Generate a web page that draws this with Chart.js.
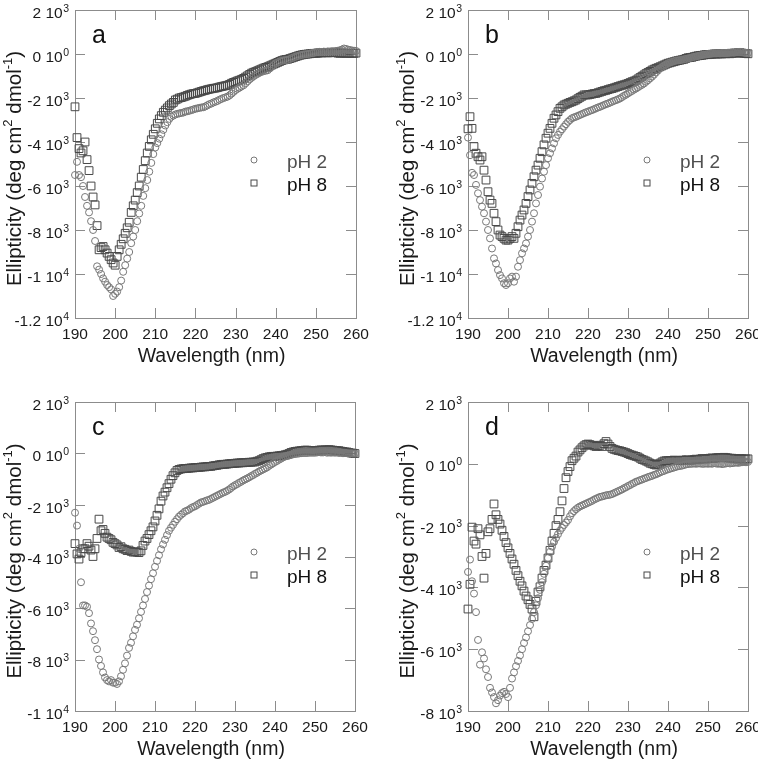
<!DOCTYPE html>
<html>
<head>
<meta charset="utf-8">
<script src="https://cdn.jsdelivr.net/npm/chart.js@4.4.0/dist/chart.umd.min.js"></script>
<style>
body { margin: 0; background: #fff; }
canvas { position: absolute; }
</style>
</head>
<body>
<canvas id="pa" width="379" height="379" style="left:0;top:0"></canvas>
<canvas id="pb" width="379" height="379" style="left:379px;top:0"></canvas>
<canvas id="pc" width="379" height="380" style="left:0;top:379px"></canvas>
<canvas id="pd" width="379" height="380" style="left:379px;top:379px"></canvas>
<script>
// wavelength (nm), one value every 0.5 nm
const wavelength = [
  190,190.5,191,191.5,192,192.5,193,193.5,194,194.5,
  195,195.5,196,196.5,197,197.5,198,198.5,199,199.5,
  200,200.5,201,201.5,202,202.5,203,203.5,204,204.5,
  205,205.5,206,206.5,207,207.5,208,208.5,209,209.5,
  210,210.5,211,211.5,212,212.5,213,213.5,214,214.5,
  215,215.5,216,216.5,217,217.5,218,218.5,219,219.5,
  220,220.5,221,221.5,222,222.5,223,223.5,224,224.5,
  225,225.5,226,226.5,227,227.5,228,228.5,229,229.5,
  230,230.5,231,231.5,232,232.5,233,233.5,234,234.5,
  235,235.5,236,236.5,237,237.5,238,238.5,239,239.5,
  240,240.5,241,241.5,242,242.5,243,243.5,244,244.5,
  245,245.5,246,246.5,247,247.5,248,248.5,249,249.5,
  250,250.5,251,251.5,252,252.5,253,253.5,254,254.5,
  255,255.5,256,256.5,257,257.5,258,258.5,259,259.5,
  260
];

// ellipticity (deg cm2 dmol-1)
const a_pH2 = [
  -5500,-4900,-5500,-5600,-6000,-6500,-6900,-7200,-7600,-8000,
  -8500,-9650,-9800,-10000,-10200,-10350,-10500,-10600,-10700,-11000,
  -10900,-10800,-10600,-10300,-9900,-9600,-9300,-9000,-8600,-8300,
  -8000,-7600,-7250,-6900,-6450,-6100,-5730,-5350,-4950,-4550,
  -4250,-4050,-3850,-3650,-3450,-3250,-3100,-2950,-2850,-2800,
  -2750,-2720,-2700,-2680,-2660,-2620,-2600,-2580,-2550,-2520,
  -2490,-2470,-2450,-2430,-2420,-2380,-2330,-2280,-2250,-2200,
  -2170,-2130,-2080,-2040,-2000,-1970,-1940,-1880,-1800,-1720,
  -1640,-1580,-1530,-1470,-1420,-1330,-1240,-1150,-1080,-1010,
  -950,-900,-850,-810,-780,-760,-740,-660,-580,-500,
  -420,-380,-340,-310,-290,-280,-270,-230,-190,-150,
  -120,-90,-60,-40,-20,-10,0,20,40,60,
  80,90,100,90,110,100,120,110,130,120,
  140,150,170,200,250,230,200,180,160,150,
  140
];
const a_pH8 = [
  -2400,-3800,-4300,-4500,-4400,-4000,-4800,-5300,-6000,-6500,
  -6860,-7800,-8900,-8800,-8750,-8900,-9050,-9200,-9350,-9500,
  -9600,-9200,-8900,-8650,-8400,-8150,-7900,-7650,-7200,-6900,
  -6640,-6300,-6000,-5600,-5250,-4850,-4500,-4200,-3900,-3650,
  -3400,-3150,-2950,-2800,-2650,-2550,-2450,-2350,-2270,-2200,
  -2090,-2050,-2000,-1980,-1950,-1920,-1880,-1850,-1820,-1800,
  -1790,-1760,-1730,-1700,-1670,-1650,-1620,-1600,-1580,-1560,
  -1550,-1530,-1500,-1480,-1460,-1440,-1420,-1380,-1330,-1290,
  -1260,-1220,-1190,-1150,-1110,-1050,-990,-930,-870,-830,
  -800,-760,-720,-680,-640,-610,-580,-540,-500,-460,
  -420,-380,-340,-300,-270,-250,-240,-210,-180,-150,
  -120,-90,-60,-40,-20,-10,0,10,20,30,
  30,40,50,50,60,60,50,60,60,70,
  60,40,30,50,40,30,30,40,30,30,
  40
];
const b_pH2 = [
  -3800,-4600,-5400,-5500,-5950,-6330,-6640,-6940,-7240,-7620,
  -8000,-8380,-8840,-9290,-9520,-9820,-10050,-10200,-10420,-10500,
  -10420,-10200,-10120,-10350,-10120,-9670,-9370,-9060,-8840,-8610,
  -8300,-8000,-7620,-7240,-6790,-6410,-6030,-5660,-5350,-5050,
  -4740,-4510,-4290,-4060,-3830,-3680,-3530,-3420,-3300,-3190,
  -3080,-3000,-2920,-2880,-2850,-2810,-2770,-2730,-2690,-2650,
  -2620,-2580,-2550,-2510,-2470,-2430,-2400,-2360,-2320,-2280,
  -2250,-2210,-2170,-2130,-2100,-2060,-2020,-1960,-1900,-1850,
  -1790,-1730,-1680,-1620,-1570,-1510,-1450,-1400,-1340,-1260,
  -1190,-1110,-1030,-940,-840,-750,-650,-590,-530,-480,
  -420,-390,-360,-330,-300,-290,-280,-260,-240,-220,
  -200,-180,-150,-130,-110,-90,-70,-50,-30,-20,
  0,10,20,30,30,40,30,50,40,50,
  60,60,70,60,80,90,100,80,60,50,
  40
];
const b_pH8 = [
  -3400,-2850,-3380,-4210,-4510,-4670,-4820,-4670,-5280,-5730,
  -6260,-6640,-6790,-7240,-7620,-8000,-8230,-8300,-8380,-8460,
  -8460,-8380,-8300,-8380,-8150,-7850,-7550,-7320,-7090,-6790,
  -6480,-6180,-5880,-5580,-5280,-5050,-4740,-4440,-4130,-3830,
  -3600,-3380,-3150,-2920,-2770,-2620,-2470,-2400,-2320,-2280,
  -2240,-2200,-2170,-2130,-2090,-2030,-1970,-1920,-1860,-1860,
  -1860,-1840,-1820,-1800,-1790,-1760,-1730,-1700,-1670,-1650,
  -1620,-1590,-1570,-1540,-1510,-1480,-1450,-1420,-1400,-1370,
  -1340,-1300,-1260,-1230,-1190,-1130,-1070,-1010,-950,-890,
  -840,-790,-730,-690,-650,-620,-580,-540,-500,-460,
  -420,-400,-370,-350,-320,-300,-280,-260,-240,-200,
  -170,-160,-150,-120,-100,-80,-70,-60,-40,-30,
  -30,-20,-10,0,0,0,10,0,20,10,
  20,10,30,40,40,50,60,40,30,20,
  10
];
const c_pH2 = [
  -2300,-2800,-3700,-5000,-5900,-5900,-5950,-6200,-6600,-6900,
  -7250,-7600,-8000,-8250,-8500,-8700,-8800,-8850,-8800,-8900,
  -8900,-8950,-8850,-8650,-8400,-8150,-7850,-7550,-7350,-7100,
  -6850,-6650,-6400,-6150,-5900,-5650,-5380,-5130,-4880,-4650,
  -4400,-4170,-3950,-3720,-3530,-3350,-3170,-3000,-2880,-2770,
  -2650,-2550,-2450,-2380,-2320,-2250,-2220,-2180,-2120,-2080,
  -2050,-2000,-1950,-1900,-1880,-1850,-1820,-1800,-1760,-1720,
  -1680,-1640,-1600,-1560,-1520,-1490,-1450,-1400,-1340,-1280,
  -1230,-1190,-1140,-1100,-1050,-1010,-970,-930,-880,-840,
  -790,-750,-700,-660,-620,-580,-540,-480,-430,-380,
  -330,-290,-240,-200,-150,-120,-100,-80,-60,-30,
  -20,-10,0,10,20,20,20,30,30,30,
  30,40,50,40,40,60,30,40,30,40,
  30,40,20,30,10,20,10,0,10,0,
  0
];
const c_pH8 = [
  -3500,-3900,-4100,-3850,-3700,-3700,-3500,-3600,-3750,-4000,
  -3700,-3300,-2550,-3000,-2950,-3100,-3250,-3300,-3350,-3450,
  -3500,-3550,-3650,-3620,-3700,-3720,-3770,-3750,-3800,-3830,
  -3820,-3830,-3850,-3780,-3570,-3400,-3300,-3150,-3000,-2850,
  -2620,-2400,-2150,-1850,-1650,-1500,-1330,-1170,-1000,-860,
  -750,-660,-620,-600,-590,-580,-580,-570,-560,-560,
  -550,-540,-540,-530,-520,-520,-510,-500,-500,-480,
  -470,-460,-440,-430,-420,-420,-410,-400,-390,-390,
  -380,-370,-370,-360,-360,-350,-350,-340,-340,-330,
  -330,-300,-280,-240,-200,-170,-150,-130,-120,-110,
  -110,-100,-90,-80,-70,-50,-30,0,40,60,
  80,90,100,110,120,130,130,120,110,110,
  110,120,130,140,130,140,140,150,140,130,
  120,110,110,90,80,60,60,40,20,10,
  0
];
const d_pH2 = [
  -3500,-3100,-3800,-4200,-4800,-5700,-6500,-6100,-6300,-6650,
  -6900,-7250,-7400,-7550,-7750,-7650,-7500,-7420,-7380,-7450,
  -7550,-7250,-6950,-6750,-6550,-6380,-6200,-6000,-5800,-5620,
  -5420,-5220,-5020,-4800,-4580,-4350,-4080,-3830,-3560,-3300,
  -3050,-2850,-2680,-2530,-2400,-2280,-2160,-2070,-1980,-1900,
  -1820,-1700,-1600,-1530,-1470,-1420,-1380,-1350,-1320,-1290,
  -1260,-1230,-1200,-1160,-1130,-1100,-1070,-1060,-1040,-1020,
  -1010,-1000,-980,-950,-920,-890,-860,-830,-790,-760,
  -720,-690,-650,-620,-580,-560,-530,-510,-480,-460,
  -430,-410,-390,-360,-340,-310,-280,-250,-230,-200,
  -180,-160,-140,-120,-100,-80,-70,-60,-40,-20,
  -10,0,0,10,0,10,10,0,0,10,
  0,10,0,20,10,0,10,-10,0,10,
  20,10,20,30,40,30,40,50,60,50,
  60
];
const d_pH8 = [
  -4700,-3900,-2050,-2500,-2600,-2100,-2300,-3000,-3700,-2900,
  -2200,-2100,-1800,-1300,-1650,-1800,-1950,-2150,-2350,-2550,
  -2720,-2900,-3080,-3250,-3450,-3620,-3800,-3950,-4120,-4280,
  -4400,-4550,-4700,-4950,-4450,-4150,-3980,-3700,-3450,-3280,
  -3050,-2800,-2500,-2250,-2000,-1800,-1550,-1200,-800,-450,
  -250,-90,100,180,250,380,450,520,580,620,
  640,620,600,580,560,580,600,560,650,720,
  640,560,500,470,450,430,420,400,380,360,
  330,300,280,260,240,220,180,140,120,90,
  60,20,0,-20,-40,-20,20,60,90,100,
  100,110,100,120,110,100,110,120,110,130,
  120,110,120,140,150,130,150,170,160,150,
  170,180,190,170,190,200,200,190,210,200,
  190,180,180,160,170,150,170,160,150,160,
  160
];

// tick values and labels (mantissa, exponent)
const xTicks = [190, 200, 210, 220, 230, 240, 250, 260];
const yTicksAB = [2000, 0, -2000, -4000, -6000, -8000, -10000, -12000];
const yLabelsAB = [['2 10','3'], ['0 10','0'], ['-2 10','3'], ['-4 10','3'], ['-6 10','3'], ['-8 10','3'], ['-1 10','4'], ['-1.2 10','4']];
const yTicksC = [2000, 0, -2000, -4000, -6000, -8000, -10000];
const yLabelsC = [['2 10','3'], ['0 10','0'], ['-2 10','3'], ['-4 10','3'], ['-6 10','3'], ['-8 10','3'], ['-1 10','4']];
const yTicksD = [2000, 0, -2000, -4000, -6000, -8000];
const yLabelsD = [['2 10','3'], ['0 10','0'], ['-2 10','3'], ['-4 10','3'], ['-6 10','3'], ['-8 10','3']];

const FONT = '"Liberation Sans", Arial, Helvetica, sans-serif';
const circleColor = '#787878';
const squareColor = '#484848';

const axesPlugin = {
  id: 'axesPlugin',
  beforeDatasetsDraw(chart) {
    const { ctx, chartArea: a } = chart;
    const { x, y } = chart.scales;
    const o = chart.options.plugins.axesPlugin;
    ctx.save();
    ctx.strokeStyle = '#8c8c8c';
    ctx.lineWidth = 1;
    ctx.strokeRect(a.left + 0.5, a.top + 0.5, a.right - a.left, a.bottom - a.top);
    ctx.beginPath();
    o.xTicks.forEach(v => {
      const px = Math.round(x.getPixelForValue(v)) + 0.5;
      ctx.moveTo(px, a.bottom); ctx.lineTo(px, a.bottom - 10);
      ctx.moveTo(px, a.top); ctx.lineTo(px, a.top + 10);
    });
    o.yTicks.forEach(v => {
      const py = Math.round(y.getPixelForValue(v)) + 0.5;
      ctx.moveTo(a.left, py); ctx.lineTo(a.left + 10, py);
      ctx.moveTo(a.right, py); ctx.lineTo(a.right - 10, py);
    });
    ctx.stroke();
    ctx.restore();
  },
  afterDraw(chart) {
    const { ctx, chartArea: a } = chart;
    const { x, y } = chart.scales;
    const o = chart.options.plugins.axesPlugin;
    ctx.save();
    ctx.fillStyle = '#1a1a1a';

    // x tick labels
    ctx.font = '15.5px ' + FONT;
    ctx.textAlign = 'center';
    ctx.textBaseline = 'alphabetic';
    o.xTicks.forEach(v => ctx.fillText(String(v), x.getPixelForValue(v), a.bottom + 21));

    // y tick labels with exponent
    ctx.textAlign = 'right';
    o.yTicks.forEach((v, i) => {
      const py = y.getPixelForValue(v);
      const [m, e] = o.yLabels[i];
      ctx.font = '10.5px ' + FONT;
      const ew = ctx.measureText(e).width;
      ctx.fillText(e, a.left - 6, py + 1.5);
      ctx.font = '15.5px ' + FONT;
      ctx.fillText(m, a.left - 6.5 - ew, py + 7.5);
    });

    // x title
    ctx.textAlign = 'center';
    ctx.font = '19.5px ' + FONT;
    ctx.fillText('Wavelength (nm)', (a.left + a.right) / 2 - 4, a.bottom + 44);

    // y title (rotated, with superscripts)
    const segs = [['Ellipticity (deg cm', 0], ['2', 1], [' dmol', 0], ['-1', 1], [')', 0]];
    const mainF = '20.5px ' + FONT, supF = '13px ' + FONT;
    let total = 0;
    segs.forEach(s => { ctx.font = s[1] ? supF : mainF; total += ctx.measureText(s[0]).width; });
    ctx.save();
    ctx.translate(a.left - 54, (a.top + a.bottom) / 2 + 4.5);
    ctx.rotate(-Math.PI / 2);
    ctx.textAlign = 'left';
    let cx = -total / 2;
    segs.forEach(s => {
      ctx.font = s[1] ? supF : mainF;
      ctx.fillText(s[0], cx, s[1] ? -9 : 0);
      cx += ctx.measureText(s[0]).width;
    });
    ctx.restore();

    // panel letter
    ctx.textAlign = 'left';
    ctx.fillStyle = '#111';
    ctx.font = '25px ' + FONT;
    ctx.fillText(o.letter, a.left + 17, a.top + 33);

    // legend
    const ds = chart.data.datasets;
    const lx = a.left + 179;
    ctx.lineWidth = 1;
    ctx.strokeStyle = ds[0].borderColor;
    ctx.beginPath();
    ctx.arc(lx, a.top + 150, 3, 0, Math.PI * 2);
    ctx.stroke();
    ctx.strokeStyle = ds[1].borderColor;
    ctx.strokeRect(lx - 3, a.top + 170, 6, 6);
    ctx.font = '19px ' + FONT;
    ctx.fillStyle = '#505050';
    ctx.fillText(ds[0].label, a.left + 212, a.top + 158);
    ctx.fillStyle = '#111';
    ctx.fillText(ds[1].label, a.left + 212, a.top + 181);
    ctx.restore();
  }
};

function toXY(vals) {
  return vals.map((v, i) => ({ x: wavelength[i], y: v }));
}

function makePanel(id, letter, pH2, pH8, yTicks, yLabels, pad) {
  new Chart(document.getElementById(id), {
    type: 'scatter',
    data: {
      datasets: [
        { label: 'pH 2', data: toXY(pH2), pointStyle: 'circle', pointRadius: 3.5,
          borderColor: circleColor, backgroundColor: 'rgba(0,0,0,0)', borderWidth: 1, clip: false },
        { label: 'pH 8', data: toXY(pH8), pointStyle: 'rect', pointRadius: 5.5,
          borderColor: squareColor, backgroundColor: 'rgba(0,0,0,0)', borderWidth: 1, clip: false }
      ]
    },
    options: {
      responsive: false,
      animation: false,
      events: [],
      layout: { padding: pad },
      scales: {
        x: { type: 'linear', min: 190, max: 260, display: false },
        y: { type: 'linear', min: yTicks[yTicks.length - 1], max: yTicks[0], display: false }
      },
      plugins: {
        legend: { display: false },
        tooltip: { enabled: false },
        axesPlugin: { letter: letter, xTicks: xTicks, yTicks: yTicks, yLabels: yLabels }
      }
    },
    plugins: [axesPlugin]
  });
}

makePanel('pa', 'a', a_pH2, a_pH8, yTicksAB, yLabelsAB, { left: 75, top: 10, right: 23, bottom: 61 });
makePanel('pb', 'b', b_pH2, b_pH8, yTicksAB, yLabelsAB, { left: 89, top: 10, right: 10, bottom: 61 });
makePanel('pc', 'c', c_pH2, c_pH8, yTicksC, yLabelsC, { left: 75, top: 23, right: 24, bottom: 48 });
makePanel('pd', 'd', d_pH2, d_pH8, yTicksD, yLabelsD, { left: 89, top: 23, right: 10, bottom: 48 });
</script>
</body>
</html>
